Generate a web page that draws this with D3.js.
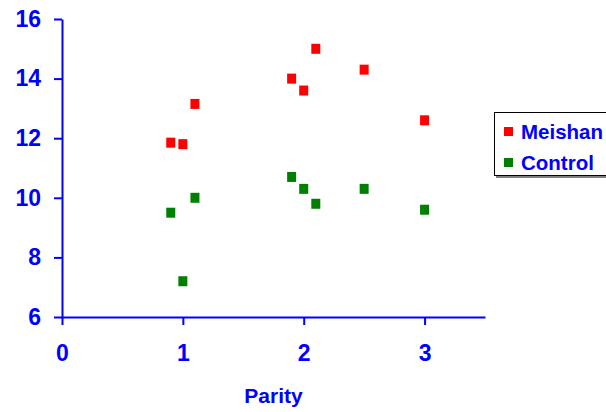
<!DOCTYPE html>
<html><head><meta charset="utf-8">
<script src="https://cdn.jsdelivr.net/npm/d3@7"></script>
<style>body{margin:0;background:#fff}svg{display:block}text{font-family:Arial,"Liberation Sans",sans-serif;font-weight:bold;fill:#0000ff}</style>
</head><body><svg id="c" width="606" height="412"></svg>
<script>
const seriesNames = ["Meishan", "Control"];
const seriesColors = ["#ff0000", "#008000"];
const meishanX = [0.9, 1.0, 1.1, 1.9, 2.0, 2.1, 2.5, 3.0];
const meishanY = [11.85, 11.8, 13.15, 14.0, 13.6, 15.0, 14.3, 12.6];
const controlX = [0.9, 1.0, 1.1, 1.9, 2.0, 2.1, 2.5, 3.0];
const controlY = [9.5, 7.2, 10.0, 10.7, 10.3, 9.8, 10.3, 9.6];
const xTicks = [0, 1, 2, 3];
const yTicks = [6, 8, 10, 12, 14, 16];
const xTitle = "Parity";

const svg = d3.select("#c");
const x = d3.scaleLinear().domain([0, 3.5]).range([62, 485]);
const y = d3.scaleLinear().domain([6, 16]).range([317, 19]);
const blue = "#0000ff";

const yAx = svg.append("g").attr("transform", "translate(62,0)")
  .call(d3.axisLeft(y).tickValues(yTicks).tickFormat(d3.format("d")).tickSize(8).tickPadding(13).tickSizeOuter(0));
const xAx = svg.append("g").attr("transform", "translate(0,317)")
  .call(d3.axisBottom(x).tickValues(xTicks).tickFormat(d3.format("d")).tickSize(8).tickPadding(20).tickSizeOuter(0));
[yAx, xAx].forEach(g => {
  g.select(".domain").attr("stroke", blue).attr("stroke-width", 2);
  g.selectAll(".tick line").attr("stroke", blue).attr("stroke-width", 2);
  g.selectAll(".tick text").attr("fill", blue).style("font-size", "23px")
    .style("font-family", "Arial, 'Liberation Sans', sans-serif").style("font-weight", "bold");
});

svg.append("text").attr("x", (62 + 485) / 2).attr("y", 403).attr("text-anchor", "middle")
  .style("font-size", "21px").text(xTitle);

const series = [[meishanX, meishanY], [controlX, controlY]];
series.forEach((s, i) => {
  svg.append("g").selectAll("rect").data(s[0].map((v, j) => [v, s[1][j]])).join("rect")
    .attr("x", d => x(d[0]) - 4.5).attr("y", d => y(d[1]) - 5)
    .attr("width", 9).attr("height", 10).attr("fill", seriesColors[i]);
});

// legend
const lg = svg.append("g");
lg.append("rect").attr("x", 496).attr("y", 114).attr("width", 130).attr("height", 64).attr("fill", "#808080");
lg.append("rect").attr("x", 494.5).attr("y", 112.5).attr("width", 130).attr("height", 63)
  .attr("fill", "#fff").attr("stroke", "#000").attr("stroke-width", 1);
seriesNames.forEach((n, i) => {
  const cy = 131.5 + i * 31;
  lg.append("rect").attr("x", 504).attr("y", cy - 4.5).attr("width", 9).attr("height", 9).attr("fill", seriesColors[i]);
  lg.append("text").attr("x", 521).attr("y", cy + 7).style("font-size", "20.5px").text(n);
});
</script></body></html>
